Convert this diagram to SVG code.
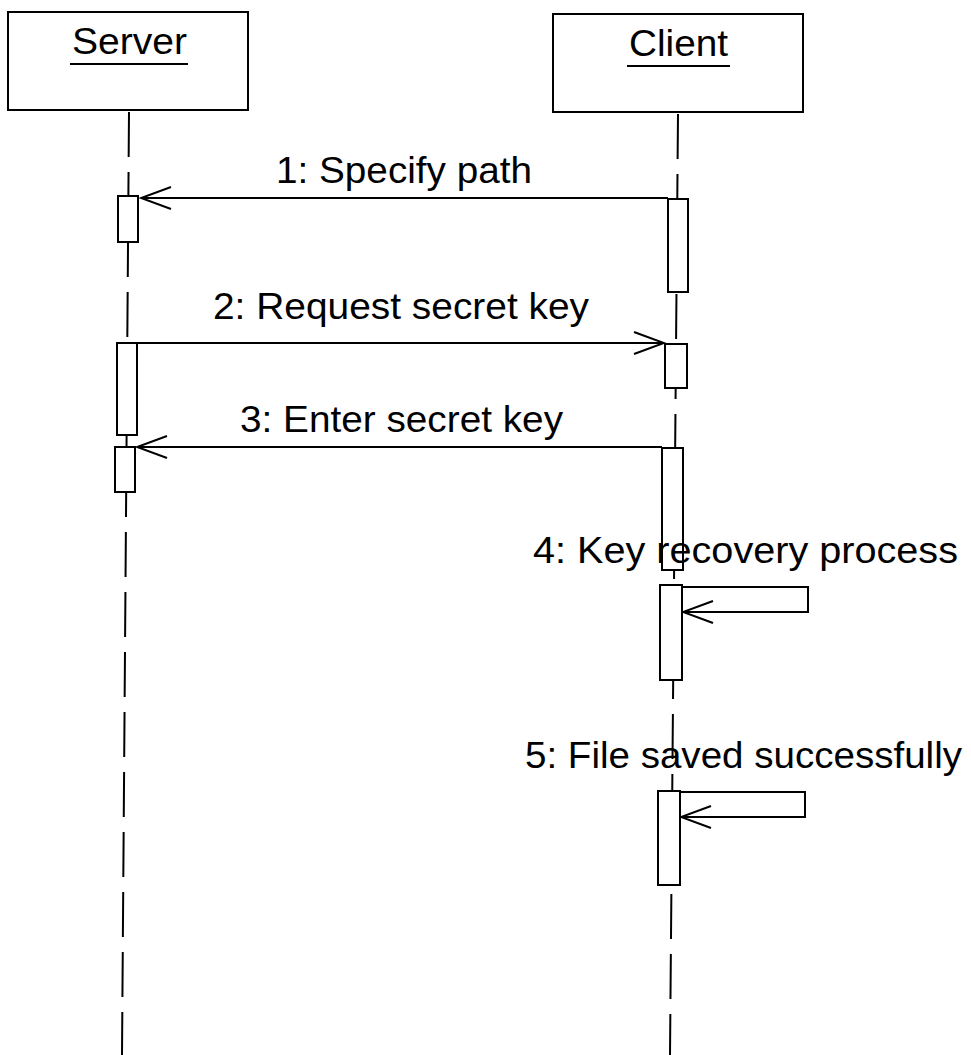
<svg xmlns="http://www.w3.org/2000/svg" width="971" height="1055" viewBox="0 0 971 1055">
  <style>
    .box { fill: #ffffff; stroke: #000000; stroke-width: 2; }
    .life { stroke: #000000; stroke-width: 2; stroke-dasharray: 45 15; fill: none; }
    .act { fill: #ffffff; stroke: #000000; stroke-width: 2; }
    .msg { stroke: #000000; stroke-width: 2; fill: none; }
    .lbl { font-family: "Liberation Sans", Arial, sans-serif; font-size: 37px; fill: #000000; }
    .uline { stroke: #000000; stroke-width: 2; }
  </style>
  <defs>
    <marker id="open" markerUnits="userSpaceOnUse" viewBox="-32 -13 34 26" refX="0" refY="0" markerWidth="34" markerHeight="26" orient="auto">
      <path d="M-30,-11 L0,0 L-30,11" fill="none" stroke="#000000" stroke-width="2"/>
    </marker>
  </defs>

  <!-- lifelines -->
  <g id="lifelines">
    <line class="life" x1="129" y1="112" x2="122" y2="1055"/>
    <line class="life" x1="678" y1="114" x2="670" y2="1055"/>
  </g>

  <!-- participants -->
  <g id="server">
    <rect class="box" x="8" y="12" width="240" height="98"/>
    <text class="lbl" x="72" y="54" textLength="115" lengthAdjust="spacingAndGlyphs">Server</text>
    <line class="uline" x1="70" y1="64" x2="188" y2="64"/>
  </g>
  <g id="client">
    <rect class="box" x="553" y="14" width="250" height="98"/>
    <text class="lbl" x="629" y="56" textLength="99" lengthAdjust="spacingAndGlyphs">Client</text>
    <line class="uline" x1="627" y1="66" x2="730" y2="66"/>
  </g>

  <!-- activation bars -->
  <g id="server-activations">
    <rect class="act" x="118" y="196" width="20" height="46"/>
    <rect class="act" x="117" y="343" width="20" height="92"/>
    <rect class="act" x="115" y="447" width="20" height="45"/>
  </g>
  <g id="client-activations">
    <rect class="act" x="668" y="199" width="20" height="93"/>
    <rect class="act" x="665" y="344" width="22" height="44"/>
    <rect class="act" x="662" y="448" width="21" height="122"/>
    <rect class="act" x="660" y="585" width="22" height="95"/>
    <rect class="act" x="658" y="791" width="22" height="94"/>
  </g>

  <!-- messages -->
  <g id="connectors">
    <line class="msg" x1="668" y1="198" x2="141" y2="198" marker-end="url(#open)"/>
    <line class="msg" x1="137" y1="343" x2="664" y2="343" marker-end="url(#open)"/>
    <line class="msg" x1="662" y1="447" x2="137" y2="447" marker-end="url(#open)"/>
    <polyline class="msg" points="682,587 808,587 808,612 683,612" marker-end="url(#open)"/>
    <polyline class="msg" points="680,792 805,792 805,817 681,817" marker-end="url(#open)"/>
  </g>

  <!-- message labels -->
  <g id="labels">
    <text class="lbl" x="276" y="183" textLength="256" lengthAdjust="spacingAndGlyphs">1: Specify path</text>
    <text class="lbl" x="213" y="319" textLength="376" lengthAdjust="spacingAndGlyphs">2: Request secret key</text>
    <text class="lbl" x="240" y="432" textLength="323" lengthAdjust="spacingAndGlyphs">3: Enter secret key</text>
    <text class="lbl" x="533" y="563" textLength="425" lengthAdjust="spacingAndGlyphs">4: Key recovery process</text>
    <text class="lbl" x="525" y="768" textLength="437" lengthAdjust="spacingAndGlyphs">5: File saved successfully</text>
  </g>
</svg>
